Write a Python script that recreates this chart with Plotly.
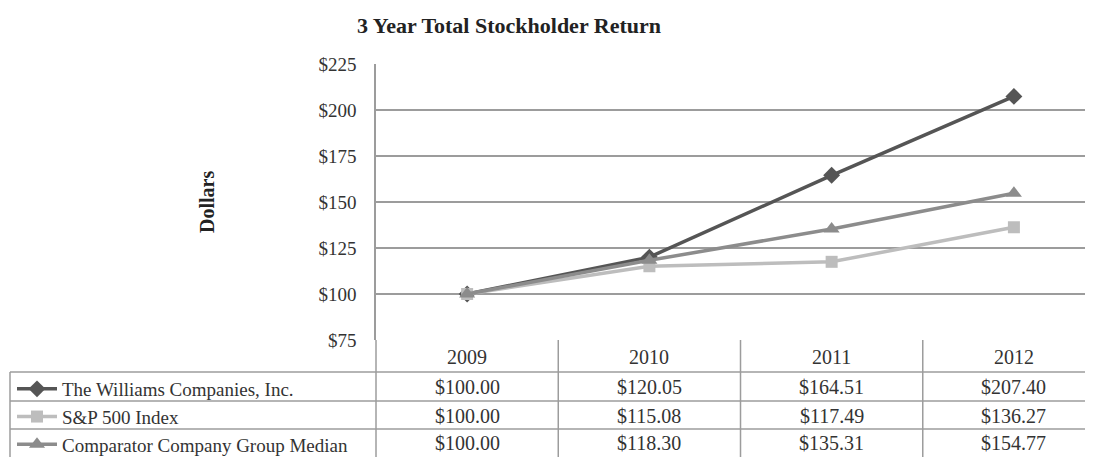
import plotly.graph_objects as go

years = ["2009", "2010", "2011", "2012"]
williams = [100.00, 120.05, 164.51, 207.40]
sp500 = [100.00, 115.08, 117.49, 136.27]
comparator = [100.00, 118.30, 135.31, 154.77]
names = ["The Williams Companies, Inc.", "S&P 500 Index", "Comparator Company Group Median"]

W, H = 1093, 457
OFF = 8  # page body margin pushes the figure 8px right and down
FONT = "Liberation Serif, Times New Roman, serif"
GRID = "#9c9c9c"

# window pixel -> paper coords (figure has no margins, domains set by hand)
def px(x):
    return (x - OFF) / W

def py(y):
    return (H - (y - OFF)) / H

fig = go.Figure()

series = [
    (williams, "#555555", "diamond", 13),
    (sp500, "#bdbdbd", "square", 12),
    (comparator, "#8c8c8c", "triangle-up", 14),
]
for i, (vals, col, sym, size) in enumerate(series):
    fig.add_trace(go.Scatter(
        x=years, y=vals, name=names[i], mode="lines+markers",
        line=dict(color=col, width=3.5),
        marker=dict(symbol=sym, size=size, color=col),
        legendgroup=str(i),
    ))

# table rows
row_top = [372, 401, 429]
row_mid = [387, 415.5, 443]
for i, vals in enumerate([williams, sp500, comparator]):
    for j, v in enumerate(vals):
        # numeric category index: "2009" strings would be read as positions
        fig.add_annotation(x=j, xref="x", y=py(row_mid[i]), yref="paper",
                           xanchor="center", yanchor="middle",
                           text="$%.2f" % v, showarrow=False,
                           font=dict(family=FONT, size=20, color="#333"))
for j, yr in enumerate(years):
    fig.add_annotation(x=j, xref="x", y=py(357), yref="paper", text=yr,
                       xanchor="center", yanchor="middle",
                       showarrow=False, font=dict(family=FONT, size=20, color="#333"))

# table grid
line = dict(color=GRID, width=1.5)
for t in row_top:
    fig.add_shape(type="line", xref="paper", yref="paper", x0=px(10), x1=px(1093),
                  y0=py(t), y1=py(t), line=line)
fig.add_shape(type="line", xref="paper", yref="paper", x0=px(10), x1=px(10),
              y0=py(372), y1=py(457), line=line)
fig.add_shape(type="line", xref="paper", yref="paper", x0=px(376), x1=px(376),
              y0=py(340), y1=py(457), line=line)
for b in [0.5, 1.5, 2.5]:
    fig.add_shape(type="line", xref="x", yref="paper", x0=b, x1=b,
                  y0=py(340), y1=py(457), line=line)

fig.add_annotation(text="Dollars", textangle=-90, x=px(207), y=py(202),
                   xref="paper", yref="paper", showarrow=False,
                   xanchor="center", yanchor="middle",
                   font=dict(family=FONT, size=20, color="#222", weight="bold"))

fig.update_layout(
    width=W, height=H,
    margin=dict(l=0, r=0, t=0, b=0, autoexpand=False),
    paper_bgcolor="white", plot_bgcolor="white",
    font=dict(family=FONT, size=19, color="#333"),
    title=dict(text="<b>3 Year Total Stockholder Return</b>", x=px(509), y=py(25),
               xanchor="center", yanchor="middle",
               font=dict(family=FONT, size=22, color="#222")),
    showlegend=True,
    legend=dict(x=px(12), y=py(370), xanchor="left", yanchor="top",
                font=dict(family=FONT, size=19, color="#333"),
                tracegroupgap=0, itemwidth=40, bgcolor="rgba(0,0,0,0)"),
    xaxis=dict(domain=[px(376), px(1093)], range=[-0.5, 3.434], type="category",
               showgrid=False, showticklabels=False, zeroline=False,
               showline=False),
    yaxis=dict(domain=[py(340), py(64)], range=[75, 225], dtick=25,
               tickprefix="$", showgrid=True, gridcolor=GRID, gridwidth=1.5,
               showline=True, linecolor=GRID, linewidth=1.5, zeroline=False,
               ticks="", ticklabelstandoff=14,
               tickfont=dict(family=FONT, size=19, color="#333")),
)

fig.write_html("out.html")
